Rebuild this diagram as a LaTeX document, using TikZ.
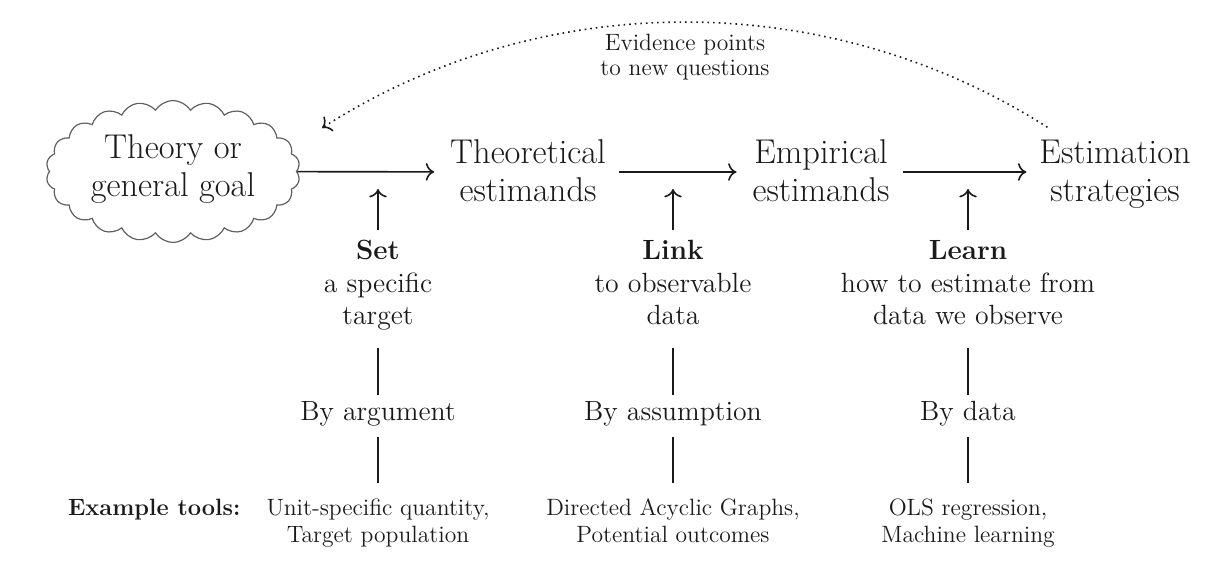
\documentclass[tikz,border=0pt]{standalone}
\usetikzlibrary{shapes.symbols,arrows.meta}
\definecolor{ink}{HTML}{1A1A1A}
\newcommand\mtop{\rule{0pt}{14pt}}
\newcommand\mbot{\rule[-3.5pt]{0pt}{3.5pt}}
\newcommand\stopr{\rule{0pt}{15pt}}
\newcommand\sbotr{\rule[-11.5pt]{0pt}{11.5pt}}
\newcommand\btopr{\rule{0pt}{12.5pt}}
\newcommand\bbotr{\rule[-8.5pt]{0pt}{8.5pt}}
\newcommand\ttopr{\rule{0pt}{16pt}}
\newcommand\tbotr{\rule[-3pt]{0pt}{3pt}}
\begin{document}
\begin{tikzpicture}[x=0.5pt,y=-0.5pt,
  mainbox/.style={inner sep=0pt, outer sep=0pt, align=center, font=\fontsize{17.2}{19.2}\selectfont, text=ink},
  subbox/.style={inner sep=0pt, outer sep=0pt, align=center, font=\fontsize{13.9}{16.25}\selectfont, text=ink},
  toolbox/.style={inner sep=0pt, outer sep=0pt, align=center, font=\fontsize{11.8}{13.5}\selectfont, text=ink},
  flow/.style={-{To[scale=1.25]}, line width=0.8pt, draw=ink},
  stem/.style={line width=0.8pt, draw=ink},
  goalcloud/.style={cloud, cloud puffs=22, cloud puff arc=115, draw=gray!75!black, line width=0.6pt, inner sep=0pt, minimum width=127pt, minimum height=71pt},
]
\useasboundingbox (0,0) rectangle (1219,566);

% main row
\node[goalcloud] (goal) at (173,171.5) {};
\node[mainbox] (goaltext) at (173,167) {\mtop Theory or\\general goal\mbot};
\node[mainbox] (theo) at (528,172) {\mtop Theoretical\\estimands\mbot};
\node[mainbox] (emp) at (821,172) {\mtop Empirical\\estimands\mbot};
\node[mainbox] (est) at (1115,172) {\mtop Estimation\\strategies\mbot};

\draw[flow, shorten >=8pt] (goal) -- (theo);
\draw[flow, shorten <=6.75pt, shorten >=8pt] (theo) -- (emp);
\draw[flow, shorten <=6.75pt, shorten >=6.5pt] (emp) -- (est);

% feedback arc
\node[toolbox, font=\fontsize{11.8}{12.5}\selectfont] (evid) at (685,57) {Evidence points\\to new questions};
\coordinate (back) at (322,128);
\draw[-{To[scale=1.25]}, dotted, line width=0.8pt, draw=ink] ([shift={(4pt,4pt)}]est.north west) .. controls (828,-13) and (542,-13) .. (back);

% columns
\node[subbox] (set) at (378,289) {\stopr\textbf{Set}\\a specific\\target\sbotr};
\node[subbox] (link) at (673,289) {\stopr\textbf{Link}\\to observable\\data\sbotr};
\node[subbox] (learn) at (968,289) {\stopr\textbf{Learn}\\how to estimate from\\data we observe\sbotr};

\coordinate (u1) at (378,189);
\coordinate (u2) at (673,189);
\coordinate (u3) at (968,189);
\draw[flow] (set) -- (u1);
\draw[flow] (link) -- (u2);
\draw[flow] (learn) -- (u3);

\node[subbox] (by1) at (378,416) {\btopr By argument\bbotr};
\node[subbox] (by2) at (673,416) {\btopr By assumption\bbotr};
\node[subbox] (by3) at (968,416) {\btopr By data\bbotr};

\node[toolbox] (tool1) at (378,515.5) {\ttopr Unit-specific quantity,\\Target population\tbotr};
\node[toolbox] (tool2) at (673,515.5) {\ttopr Directed Acyclic Graphs,\\Potential outcomes\tbotr};
\node[toolbox] (tool3) at (968,515.5) {\ttopr OLS regression,\\Machine learning\tbotr};
\node[toolbox, anchor=base west] (extools) at (68,515) {\textbf{Example tools:}};

\draw[stem] (set) -- (by1);
\draw[stem] (by1) -- (tool1);
\draw[stem] (link) -- (by2);
\draw[stem] (by2) -- (tool2);
\draw[stem] (learn) -- (by3);
\draw[stem] (by3) -- (tool3);
\end{tikzpicture}
\end{document}
